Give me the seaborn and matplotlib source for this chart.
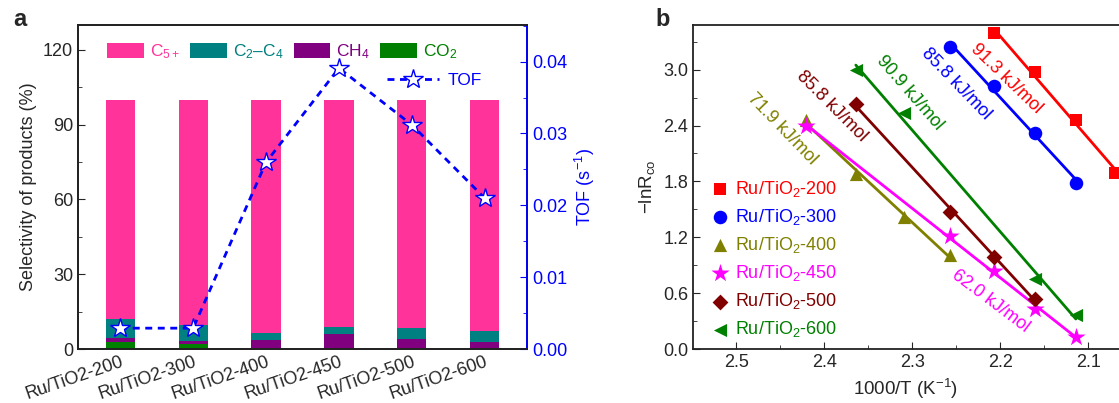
import numpy as np
import pandas as pd
import matplotlib
matplotlib.use("Agg")
import matplotlib.pyplot as plt
from matplotlib.patches import Patch
from matplotlib.ticker import MultipleLocator, FormatStrFormatter
import seaborn as sns

# ---------------- data ----------------
catalysts = ["Ru/TiO2-200", "Ru/TiO2-300", "Ru/TiO2-400", "Ru/TiO2-450", "Ru/TiO2-500", "Ru/TiO2-600"]
co2 = [2.8, 1.9, 0.5, 0.2, 0.3, 0.5]
ch4 = [1.7, 1.2, 3.1, 5.8, 3.7, 2.3]
c2c4 = [7.5, 6.5, 2.7, 2.8, 4.3, 4.4]
total = [100, 100, 100, 100, 100, 100]
tof = [0.0029, 0.0029, 0.0260, 0.0391, 0.0312, 0.0210]

series_names = ["Ru/TiO$_2$-200", "Ru/TiO$_2$-300", "Ru/TiO$_2$-400",
                "Ru/TiO$_2$-450", "Ru/TiO$_2$-500", "Ru/TiO$_2$-600"]
x200 = [2.207, 2.160, 2.114, 2.070]
y200 = [3.39, 2.97, 2.46, 1.89]
x300 = [2.257, 2.207, 2.160, 2.114]
y300 = [3.24, 2.83, 2.32, 1.78]
x400 = [2.421, 2.364, 2.309, 2.257]
y400 = [2.46, 1.88, 1.42, 1.01]
x450 = [2.421, 2.257, 2.207, 2.160, 2.114]
y450 = [2.40, 1.215, 0.84, 0.43, 0.13]
x500 = [2.364, 2.257, 2.207, 2.160]
y500 = [2.63, 1.47, 0.99, 0.54]
x600 = [2.364, 2.309, 2.160, 2.114]
y600 = [3.00, 2.53, 0.75, 0.365]
energies = ["91.3 kJ/mol", "85.8 kJ/mol", "71.9 kJ/mol", "62.0 kJ/mol", "85.8 kJ/mol", "90.9 kJ/mol"]

# ---------------- style ----------------
sns.set_style("ticks")
plt.rcParams["font.family"] = ["Liberation Sans", "DejaVu Sans"]
plt.rcParams["mathtext.fontset"] = "custom"
plt.rcParams["mathtext.rm"] = "Liberation Sans"
plt.rcParams["mathtext.it"] = "Liberation Sans:italic"
plt.rcParams["mathtext.bf"] = "Liberation Sans:bold"
plt.rcParams["axes.edgecolor"] = "#222222"
plt.rcParams["axes.linewidth"] = 1.3

FS = 13
fig = plt.figure(figsize=(11.19, 4.03), dpi=100)
W, H = 1119, 403

def box(l, r, t, b):
    return [l / W, (H - b) / H, (r - l) / W, (b - t) / H]

# ---------------- panel a ----------------
ax = fig.add_axes(box(78, 527, 25, 349))
pink, teal, purple, green = "#FF3399", "#008080", "#800080", "#008000"
cum_co2 = np.array(co2)
cum_ch4 = cum_co2 + np.array(ch4)
cum_c2 = cum_ch4 + np.array(c2c4)
layers = [(total, pink), (cum_c2, teal), (cum_ch4, purple), (cum_co2, green)]
for vals, col in layers:
    sns.barplot(x=catalysts, y=list(vals), color=col, width=0.4, ax=ax,
                saturation=1, linewidth=0)
ax.set_xlim(-0.58, 5.58)
ax.set_ylim(0, 130)
ax.yaxis.set_major_locator(MultipleLocator(30))
ax.yaxis.set_minor_locator(MultipleLocator(15))
ax.tick_params(axis="y", which="both", direction="in", labelsize=FS, right=False)
ax.tick_params(axis="y", which="major", length=5)
ax.tick_params(axis="y", which="minor", length=3)
ax.tick_params(axis="x", length=0, labelsize=13, pad=3)
for lab in ax.get_xticklabels():
    lab.set_rotation(19)
    lab.set_ha("right")
    lab.set_rotation_mode("anchor")
ax.set_ylabel("Selectivity of products (%)", fontsize=FS)
ax.set_xlabel("")

leg_handles = [Patch(facecolor=c, edgecolor="none") for c in [pink, teal, purple, green]]
leg_labels = ["C$_{5+}$", "C$_2$–C$_4$", "CH$_4$", "CO$_2$"]
leg = ax.legend(leg_handles, leg_labels, ncol=4, loc="upper center",
                bbox_to_anchor=(0.455, 0.995), frameon=False, fontsize=12.5,
                handlelength=2.1, handleheight=0.95, handletextpad=0.35,
                columnspacing=0.6)
for t, c in zip(leg.get_texts(), [pink, teal, purple, green]):
    t.set_color(c)

ax2 = ax.twinx()
sns.lineplot(x=np.arange(len(tof)), y=tof, ax=ax2, color="#0000FF", lw=2,
             marker="*", markersize=15, markerfacecolor="white",
             markeredgecolor="#0000FF", markeredgewidth=1.0, label="TOF")
ax2.lines[0].set_dashes([2.5, 2])
ax2.set_ylim(0, 0.0451)
ax2.yaxis.set_major_locator(MultipleLocator(0.01))
ax2.yaxis.set_minor_locator(MultipleLocator(0.005))
ax2.yaxis.set_major_formatter(FormatStrFormatter("%.2f"))
ax2.tick_params(axis="y", which="both", direction="in", colors="#0000FF", labelsize=FS)
ax2.tick_params(axis="y", which="major", length=5)
ax2.tick_params(axis="y", which="minor", length=3)
ax2.spines["right"].set_color("#0000FF")
ax2.set_ylabel("TOF (s$^{-1}$)", color="#0000FF", fontsize=FS)
l2 = ax2.legend(loc="center right", bbox_to_anchor=(0.935, 0.83), frameon=False,
                fontsize=12.5, handlelength=3.0, handletextpad=0.5)
for t in l2.get_texts():
    t.set_color("#0000FF")
ax.set_xlim(-0.58, 5.58)

fig.text(13 / W, (H - 20) / H, "a", fontsize=17, fontweight="bold", va="center")

# ---------------- panel b ----------------
bx = fig.add_axes(box(693, 1119, 25, 349))
cols = ["#FF0000", "#0000FF", "#808000", "#FF00FF", "#800000", "#008000"]
markers = ["s", "o", "^", "*", "D", "<"]
sizes = [75, 95, 90, 190, 65, 90]
xs = [x200, x300, x400, x450, x500, x600]
ys = [y200, y300, y400, y450, y500, y600]
for xv, yv, c in zip(xs, ys, cols):
    sns.regplot(x=xv, y=yv, ci=None, scatter=False, color=c,
                line_kws={"lw": 2}, truncate=True, ax=bx)
for xv, yv, c, m, s, name in zip(xs, ys, cols, markers, sizes, series_names):
    sns.scatterplot(x=xv, y=yv, color=c, marker=m, s=s, linewidth=0,
                    ax=bx, label=name, zorder=3)

bx.set_xlim(2.549, 2.065)
bx.set_ylim(0, 3.48)
bx.xaxis.set_major_locator(MultipleLocator(0.1))
bx.xaxis.set_minor_locator(MultipleLocator(0.05))
bx.yaxis.set_major_locator(MultipleLocator(0.6))
bx.yaxis.set_minor_locator(MultipleLocator(0.3))
bx.xaxis.set_major_formatter(FormatStrFormatter("%.1f"))
bx.yaxis.set_major_formatter(FormatStrFormatter("%.1f"))
bx.tick_params(which="both", direction="in", labelsize=FS, top=False, right=False)
bx.tick_params(which="major", length=5)
bx.tick_params(which="minor", length=3)
bx.spines["right"].set_visible(False)
bx.set_xlabel("1000/T (K$^{-1}$)", fontsize=13.5)
bx.set_ylabel("−lnR$_{\\mathrm{co}}$", fontsize=13.5)

lb = bx.legend(loc="upper left", bbox_to_anchor=(-0.005, 0.57), frameon=False,
               fontsize=FS, handletextpad=0.05, labelspacing=0.45, borderpad=0.3,
               handlelength=1.6)
for t, c in zip(lb.get_texts(), cols):
    t.set_color(c)

# activation-energy annotations
ann_pos = [(2.193, 2.90, -44), (2.250, 2.85, -46), (2.448, 2.36, -46),
           (2.211, 0.51, -37), (2.391, 2.61, -45), (2.303, 2.75, -49)]
for (xa, ya, rot), txt, c in zip(ann_pos, energies, cols):
    bx.text(xa, ya, txt, color=c, fontsize=FS, rotation=rot,
            rotation_mode="anchor", ha="center", va="center")

fig.text(655 / W, (H - 20) / H, "b", fontsize=17, fontweight="bold", va="center")

fig.savefig("out.png", dpi=100)
